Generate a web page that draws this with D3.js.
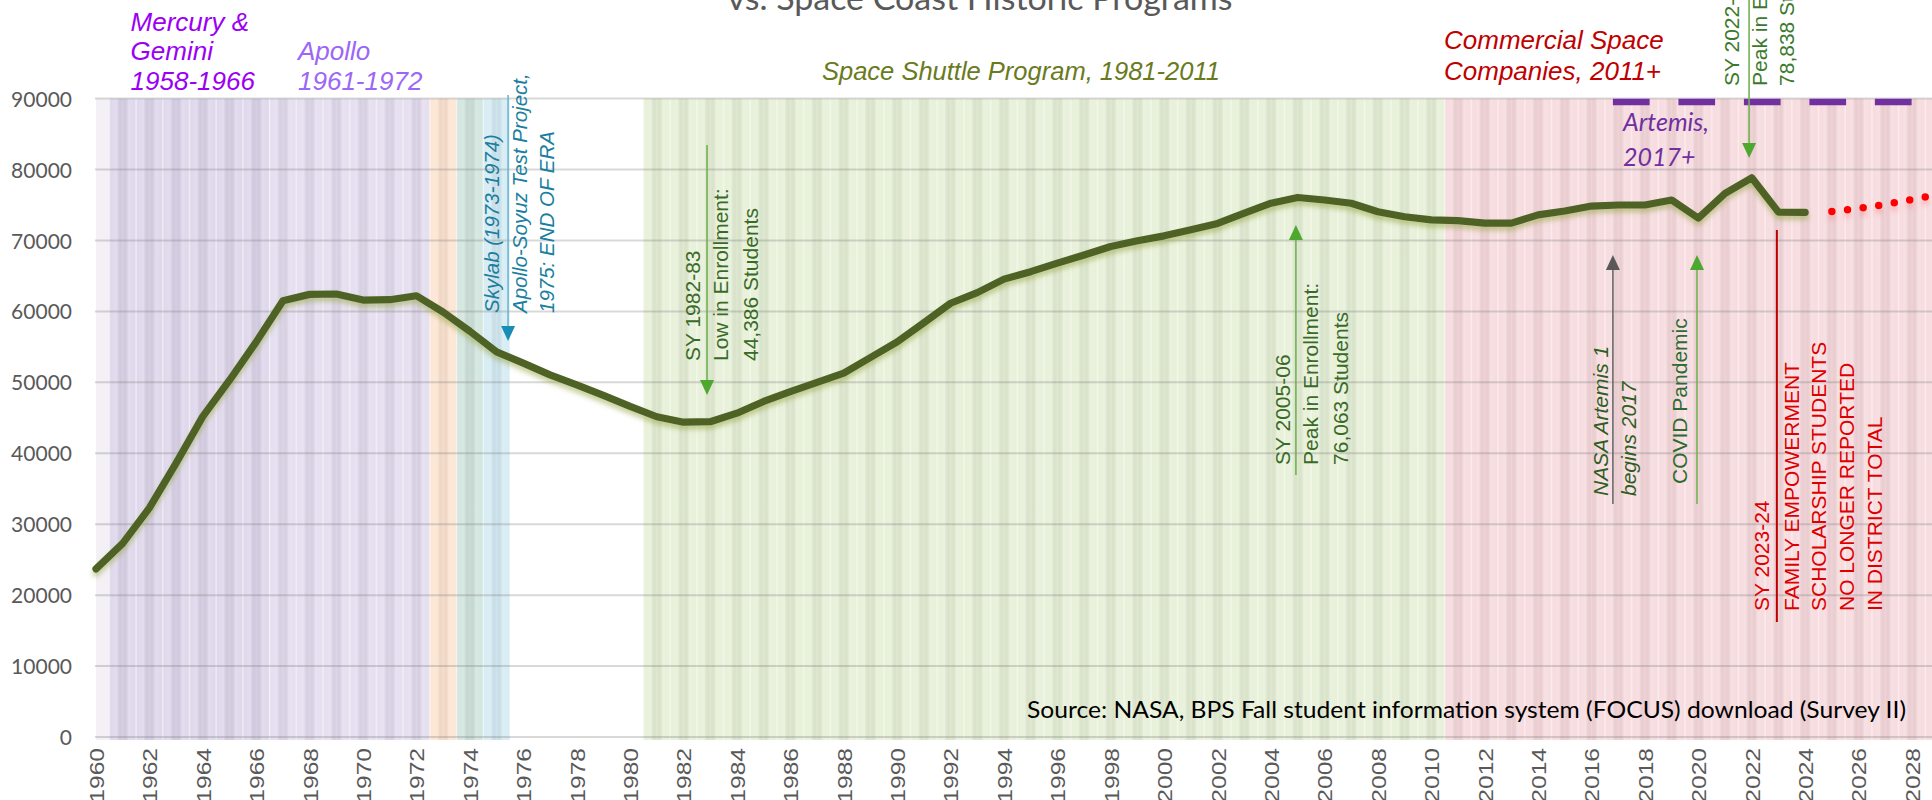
<!DOCTYPE html>
<html><head><meta charset="utf-8">
<script src="https://cdn.jsdelivr.net/npm/d3@7"></script>
<style>
html,body{margin:0;padding:0;background:#fff;overflow:hidden}
svg{display:block}
</style></head><body>
<svg id="chart" width="1932" height="800"></svg>
<script>
// ---------------- DATA ----------------
const years = d3.range(1960, 2025);
const enrollment = [
  23700, 27300, 32300, 38600, 45200, 50300, 55700, 61500, 62400, 62450,
  61600, 61650, 62200, 59900, 57200, 54300, 52700, 51050, 49650, 48150,
  46600, 45150, 44386, 44450, 45650, 47300, 48700, 50000, 51300, 53500,
  55700, 58400, 61150, 62650, 64550, 65600, 66800, 67950, 69150, 69950,
  70650, 71500, 72400, 73850, 75250, 76063, 75700, 75250, 74050, 73350,
  72900, 72800, 72450, 72450, 73600, 74150, 74850, 75000, 75000, 75700,
  73150, 76650, 78838, 74000, 73950
];
const projectionYears = [2025, 2026, 2027, 2028, 2029];
const projectionValues = [74080, 74500, 75080, 75770, 76480];
const yTicks = [0, 10000, 20000, 30000, 40000, 50000, 60000, 70000, 80000, 90000];
const xTickYears = d3.range(1960, 2029, 2);
// program eras (year boundaries)
const bandStart = [1960, 1960.5, 1966.5, 1972.5, 1973.5, 1974.5, 1980.5, 2010.5];
const bandEnd   = [1960.5, 1966.5, 1972.5, 1973.5, 1974.5, 1975.5, 2010.5, 2029.5];
const artemisFrom = 2016.8, artemisTo = 2029.5;

// ---------------- SETUP ----------------
const W = 1932, H = 800;
const svg = d3.select('#chart');
const x = d3.scaleLinear().domain([1960, 2028]).range([96, 1912]);
const y = d3.scaleLinear().domain([0, 90000]).range([737, 98.6]);
const ARIAL = '"Liberation Sans", Arial, sans-serif';
const CAL = 'Lato, "Open Sans", sans-serif';

const defs = svg.append('defs');
const grad = defs.append('linearGradient').attr('id', 'colTex');
[[0,'#fff',.6],[.05,'#fff',.1],[.28,'#fff',.2],[.5,'#000',.02],[.72,'#fff',.2],[.95,'#fff',.1],[1,'#fff',.6]]
  .forEach(s => grad.append('stop').attr('offset', s[0]).attr('stop-color', s[1]).attr('stop-opacity', s[2]));
const fl = defs.append('filter').attr('id','lineShadow').attr('x','-2%').attr('y','-20%').attr('width','104%').attr('height','150%');
fl.append('feDropShadow').attr('dx',0).attr('dy',4).attr('stdDeviation',2.5)
  .attr('flood-color','#98a848').attr('flood-opacity',0.55);
const fd = defs.append('filter').attr('id','dotShadow').attr('x','-10%').attr('y','-50%').attr('width','120%').attr('height','250%');
fd.append('feDropShadow').attr('dx',0).attr('dy',5).attr('stdDeviation',2.5)
  .attr('flood-color','#ff7070').attr('flood-opacity',0.35);

// ---------------- BANDS ----------------
const bandColors = ['#f3f0f6','#dcd4ea','#e2dbee','#fde3cf','#cfe3dc','#d3eaf3','#e5efd5','#f6d8dc'];
const gB = svg.append('g');
gB.selectAll('rect.band').data(bandStart).join('rect')
  .attr('x', (d) => x(d)).attr('width', (d, i) => x(bandEnd[i]) - x(d))
  .attr('y', y(90000)).attr('height', 740 - y(90000))
  .attr('fill', (d, i) => bandColors[i]);
const texYears = d3.range(1961, 2030).filter(yr => bandStart.some((s, i) => i > 0 && yr > s && yr < bandEnd[i]));
gB.selectAll('rect.tex').data(texYears).join('rect')
  .attr('x', d => x(d - 0.5)).attr('width', x(1) - x(0))
  .attr('y', y(90000)).attr('height', 740 - y(90000))
  .attr('fill', 'url(#colTex)');

// ---------------- GRID ----------------
svg.append('g').selectAll('line').data(yTicks).join('line')
  .attr('x1', 95).attr('x2', W).attr('y1', d => y(d)).attr('y2', d => y(d))
  .attr('stroke', '#7f7f7f').attr('stroke-opacity', 0.3).attr('stroke-width', 2);

// Artemis dashed bar
svg.append('line')
  .attr('x1', x(artemisFrom)).attr('x2', x(artemisTo))
  .attr('y1', y(90000) + 3.4).attr('y2', y(90000) + 3.4)
  .attr('stroke', '#7030a0').attr('stroke-width', 6.5).attr('stroke-dasharray', '36.7 28.8');

// ---------------- AXES ----------------
const yAxis = svg.append('g').attr('transform', 'translate(96,0)')
  .call(d3.axisLeft(y).tickValues(yTicks).tickSize(0).tickPadding(24).tickFormat(d3.format('d')));
yAxis.select('.domain').remove();
yAxis.selectAll('text').attr('font-family', CAL).attr('font-size', 21).attr('fill', '#595959').attr('dy', '0.36em');

const xScaleStretch = 1.2;
const xAxis = svg.append('g').attr('transform', `translate(0,${y(0)})`)
  .call(d3.axisBottom(x).tickValues(xTickYears).tickSize(0).tickFormat(d3.format('d')));
xAxis.select('.domain').remove();
xAxis.selectAll('text')
  .attr('font-family', ARIAL).attr('font-size', 20.5).attr('fill', '#595959')
  .attr('text-anchor', 'end').attr('y', 0).attr('x', -11 / xScaleStretch).attr('dy', '0.36em')
  .attr('transform', `rotate(-90) scale(${xScaleStretch},1)`);

// ---------------- ANNOTATION HELPERS ----------------
function arrow(xv, fromV, tipV, lineColor, headColor, headed) {
  const g = svg.append('g');
  const X = x(xv), y1 = y(fromV), y2 = y(tipV);
  const dir = y2 > y1 ? 1 : -1;
  g.append('line').attr('x1', X).attr('x2', X).attr('y1', y1).attr('y2', headed ? y2 - dir * 12 : y2)
    .attr('stroke', lineColor).attr('stroke-width', headed ? 1.6 : 2);
  if (headed) {
    g.append('path').attr('d', `M${X - 7},${y2 - dir * 15} L${X + 7},${y2 - dir * 15} L${X},${y2} Z`).attr('fill', headColor);
  }
}
function vtext(lines, cols, bottomV, color, size, italic) {
  lines.forEach((t, i) => {
    svg.append('text')
      .attr('transform', `translate(${x(cols[i])},${y(bottomV)}) rotate(-90)`)
      .attr('dy', '0.36em').attr('text-anchor', 'start')
      .attr('font-family', ARIAL).attr('font-size', size)
      .attr('font-style', italic ? 'italic' : 'normal')
      .attr('fill', color).text(t);
  });
}
function htext(lines, xPx, baselines, color, size, family, italic) {
  lines.forEach((t, i) => {
    svg.append('text').attr('x', xPx).attr('y', baselines[i])
      .attr('font-family', family).attr('font-size', size)
      .attr('font-style', italic ? 'italic' : 'normal').attr('fill', color).text(t);
  });
}

// arrows
arrow(1975.43, 90500, 55830, '#6bb8d4', '#1a8db5', true);
arrow(1982.88, 83460, 48215, '#72b352', '#4ea72e', true);
arrow(2004.93, 36940, 72180, '#72b352', '#4ea72e', true);
arrow(2021.90, 104000, 81630, '#72b352', '#4ea72e', true);
arrow(2016.80, 32850, 67950, '#6a6a6a', '#595959', true);
arrow(2019.95, 32850, 67950, '#72b352', '#4ea72e', true);
arrow(2022.94, 71480, 16210, '#c00000', '#c00000', false);

// ---------------- LINE ----------------
const pts = years.map((yr, i) => [yr, enrollment[i]]);
svg.append('path').datum(pts)
  .attr('d', d3.line().x(d => x(d[0])).y(d => y(d[1])))
  .attr('fill', 'none').attr('stroke', '#4f6228').attr('stroke-width', 7.2)
  .attr('stroke-linejoin', 'round').attr('stroke-linecap', 'round')
  .attr('filter', 'url(#lineShadow)');

const proj = projectionYears.map((yr, i) => [yr, projectionValues[i]]);
svg.append('path').datum(proj)
  .attr('d', d3.line().x(d => x(d[0])).y(d => y(d[1])))
  .attr('fill', 'none').attr('stroke', '#ff0000').attr('stroke-width', 7.5)
  .attr('stroke-linecap', 'round').attr('stroke-dasharray', '0 15.75')
  .attr('filter', 'url(#dotShadow)');

// ---------------- TEXTS ----------------
vtext(['Skylab (1973-1974)', 'Apollo-Soyuz Test Project,', '1975: END OF ERA'],
  [1974.83, 1975.88, 1976.89], 59775, '#1b7fa0', 20.5, true);
vtext(['SY 1982-83', 'Low in Enrollment:', '44,386 Students'],
  [1982.32, 1983.40, 1984.49], 53000, '#3a6b26', 21, false);
vtext(['SY 2005-06', 'Peak in Enrollment:', '76,063 Students'],
  [2004.41, 2005.46, 2006.58], 38350, '#3a6b26', 21, false);
vtext(['SY 2022-23', 'Peak in Enrollment:', '78,838 Students'],
  [2021.23, 2022.29, 2023.28], 91780, '#3b7a2c', 21, false);
vtext(['NASA Artemis 1', 'begins 2017'], [2016.32, 2017.40], 33975, '#2f5e22', 21, true);
vtext(['COVID Pandemic'], [2019.31], 35670, '#2e6b2e', 21, false);
vtext(['SY 2023-24', 'FAMILY EMPOWERMENT', 'SCHOLARSHIP STUDENTS', 'NO LONGER REPORTED', 'IN DISTRICT TOTAL'],
  [2022.35, 2023.47, 2024.48, 2025.53, 2026.58], 17760, '#dd0000', 21, false);

htext(['Mercury &', 'Gemini', '1958-1966'], 130.6, [30.5, 60, 89.6], '#9b00f5', 26, ARIAL, true);
htext(['Apollo', '1961-1972'], 298, [60, 89.6], '#9c66f7', 26, ARIAL, true);
htext(['Space Shuttle Program, 1981-2011'], 822, [80], '#6a7a1e', 25.5, ARIAL, true);
htext(['Commercial Space', 'Companies, 2011+'], 1444, [49, 80], '#c00000', 26, ARIAL, true);
htext(['Artemis,', '2017+'], 1623, [131, 166], '#7030a0', 25, CAL, true);

svg.append('text').attr('x', 980).attr('y', 10).attr('text-anchor', 'middle')
  .attr('font-family', CAL).attr('font-size', 32).attr('fill', '#595959')
  .attr('textLength', 505).attr('lengthAdjust', 'spacingAndGlyphs')
  .text('vs. Space Coast Historic Programs');

svg.append('text').attr('x', 1027).attr('y', 718)
  .attr('font-family', CAL).attr('font-size', 24).attr('fill', '#000')
  .attr('textLength', 879).attr('lengthAdjust', 'spacingAndGlyphs')
  .text('Source: NASA, BPS Fall student information system (FOCUS) download (Survey II)');
</script>
</body></html>
